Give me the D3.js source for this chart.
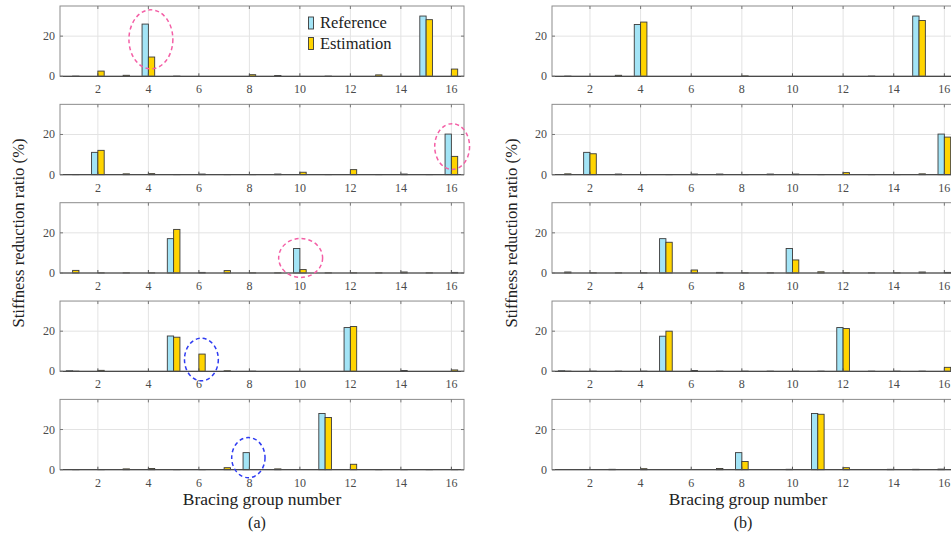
<!DOCTYPE html>
<html><head><meta charset="utf-8">
<script src="https://cdn.jsdelivr.net/npm/d3@7"></script>
<style>body{margin:0;background:#fff}svg{display:block}text{font-family:"Liberation Serif","Times New Roman",serif}</style>
</head><body><svg id="c" width="951" height="537"></svg>
<script>
const groups = [1,2,3,4,5,6,7,8,9,10,11,12,13,14,15,16];
const xTicks = [2,4,6,8,10,12,14,16];
const yTicks = [0,20];
const seriesNames = ["Reference","Estimation"];
const panelLabels = ["(a)","(b)"];

const refA = [
  [0,0,0,26,0,0,0,0,0,0,0,0,0,0,30,0],
  [0,11.1,0,0,0,0,0,0,0,0,0,0,0,0,0,20.2],
  [0,0,0,0,17.1,0,0,0,0,12.2,0,0,0,0,0,0],
  [0.3,0,0,0,17.6,0,0,0,0,0,0,21.8,0,0,0,0],
  [0,0,0,0,0,0,0,8.5,0,0,28,0,0,0,0,0]
];
const estA = [
  [0.1,2.6,0.5,9.6,0.1,0,0,0.8,0.4,0,0.1,0,0.7,0,28.2,3.6],
  [0.1,12.1,0.4,0.5,0.1,0.3,0.1,0.1,0.3,1.2,0.1,2.5,0.1,0.3,0.1,9.1],
  [1.3,0.1,0.1,0.1,21.7,0.3,1.2,0.1,0.1,1.7,0.1,0.1,0.1,0.5,0.1,0.3],
  [0.1,0.5,0,0,17.0,8.6,0.3,0.1,0,0,0,22.3,0,0.4,0,0.7],
  [0.1,0.1,0.4,0.6,0.1,0.1,1.0,0,0.4,0,26,2.7,0.1,0.1,0.1,0.1]
];
const refB = [
  [0,0,0,25.8,0,0,0,0,0,0,0,0,0,0,30,0],
  [0,11.1,0,0,0,0,0,0,0,0,0,0,0,0,0,20.2],
  [0,0,0,0,17.1,0,0,0,0,12.2,0,0,0,0,0,0],
  [0.3,0,0,0,17.5,0,0,0,0,0,0,21.8,0,0,0,0],
  [0,0,0.2,0,0,0,0,8.5,0,0.2,28,0,0,0.2,0.2,0.3]
];
const estB = [
  [0.1,0,0.5,27,0,0,0,0.2,0,0,0,0,0.1,0,27.8,0],
  [0.4,10.4,0.3,0.1,0.1,0.3,0.3,0.1,0.3,0.3,0.1,1.0,0.1,0.1,0.4,18.7],
  [0.5,0.1,0.1,0.1,15.3,1.5,0.3,0.1,0.1,6.5,0.6,0.1,0.1,0.1,0.5,0.3],
  [0.1,0.1,0.1,0.1,20,0.4,0.1,0.1,0.1,0.1,0.1,21.3,0.1,0.1,0.1,2.0],
  [0,0,0,0.5,0,0,0.6,4.1,0,0,27.6,1.0,0,0,0,0]
];
// dashed ellipse annotations (panel, row, centre x, centre y, radius x, radius y in data units)
const annotations = [
  {panel:0,row:0,x:4.1,y:18.4,rx:0.87,ry:14.7,color:"pink"},
  {panel:0,row:1,x:16.03,y:14,rx:0.69,ry:11.4,color:"pink"},
  {panel:0,row:2,x:10.03,y:7.5,rx:0.87,ry:9.7,color:"pink"},
  {panel:0,row:3,x:6.1,y:5.9,rx:0.67,ry:10.6,color:"blue"},
  {panel:0,row:4,x:7.96,y:6,rx:0.66,ry:10,color:"blue"}
];

const colors = {ref:"#a3e4f6", est:"#ffd400", pink:"#f45fa6", blue:"#2f3cf2"};
const svg = d3.select("#c");
const panels = [
  {ref:refA, est:estA, x0:60, x1:464},
  {ref:refB, est:estB, x0:552, x1:957}
];
const rowTop = 6, rowStep = 98.35, rowH = 70.3;
const barW = 0.25;

panels.forEach((p, pi) => {
  const x = d3.scaleLinear().domain([0.5,16.5]).range([p.x0,p.x1]);
  for (let r = 0; r < 5; r++) {
    const top = rowTop + r*rowStep;
    const y = d3.scaleLinear().domain([0,35]).range([top+rowH, top]);
    const g = svg.append("g");
    g.selectAll(".vg").data(xTicks).join("line")
      .attr("x1", d=>x(d)).attr("x2", d=>x(d)).attr("y1", y(0)).attr("y2", y(35))
      .attr("stroke","#e3e3e3").attr("stroke-width",1);
    g.selectAll(".hg").data(yTicks.filter(d=>d>0)).join("line")
      .attr("x1", x(0.5)).attr("x2", x(16.5)).attr("y1", d=>y(d)).attr("y2", d=>y(d))
      .attr("stroke","#e3e3e3").attr("stroke-width",1);
    const refData = groups.map((gr,i)=>({g:gr, v:p.ref[r][i]}));
    const estData = groups.map((gr,i)=>({g:gr, v:p.est[r][i]}));
    g.selectAll(".rb").data(refData.filter(d=>d.v>0)).join("rect")
      .attr("x", d=>x(d.g-barW)).attr("width", x(barW)-x(0))
      .attr("y", d=>y(d.v)).attr("height", d=>y(0)-y(d.v))
      .attr("fill", colors.ref).attr("stroke","#3a3a3a").attr("stroke-width",0.9);
    g.selectAll(".eb").data(estData.filter(d=>d.v>0)).join("rect")
      .attr("x", d=>x(d.g)).attr("width", x(barW)-x(0))
      .attr("y", d=>y(d.v)).attr("height", d=>y(0)-y(d.v))
      .attr("fill", colors.est).attr("stroke","#3a3a3a").attr("stroke-width",0.9);
    g.append("rect").attr("x", x(0.5)).attr("y", y(35)).attr("width", x(16.5)-x(0.5)).attr("height", y(0)-y(35))
      .attr("fill","none").attr("stroke","#8c8c8c").attr("stroke-width",1);
    g.append("line").attr("x1", x(0.5)).attr("x2", x(16.5)).attr("y1", y(0)).attr("y2", y(0))
      .attr("stroke","#4a4a4a").attr("stroke-width",1.2);
    g.selectAll(".tb").data(xTicks).join("line")
      .attr("x1", d=>x(d)).attr("x2", d=>x(d)).attr("y1", y(0)).attr("y2", y(0)-3)
      .attr("stroke","#555");
    g.selectAll(".tt").data(xTicks).join("line")
      .attr("x1", d=>x(d)).attr("x2", d=>x(d)).attr("y1", y(35)).attr("y2", y(35)+3)
      .attr("stroke","#777");
    g.selectAll(".tl").data(yTicks).join("line")
      .attr("x1", x(0.5)).attr("x2", x(0.5)+3).attr("y1", d=>y(d)).attr("y2", d=>y(d))
      .attr("stroke","#777");
    g.selectAll(".tr").data(yTicks).join("line")
      .attr("x1", x(16.5)).attr("x2", x(16.5)-3).attr("y1", d=>y(d)).attr("y2", d=>y(d))
      .attr("stroke","#777");
    g.selectAll(".xl").data(xTicks).join("text")
      .attr("x", d=>x(d)).attr("y", y(0)+17).attr("text-anchor","middle")
      .attr("font-size",12).attr("fill","#4a4a4a").text(d=>d);
    g.selectAll(".yl").data(yTicks).join("text")
      .attr("x", x(0.5)-5).attr("y", d=>y(d)+4).attr("text-anchor","end")
      .attr("font-size",12).attr("fill","#4a4a4a").text(d=>d);
    annotations.filter(a=>a.panel===pi && a.row===r).forEach(a=>{
      g.append("ellipse").attr("cx", x(a.x)).attr("cy", y(a.y))
        .attr("rx", x(a.rx)-x(0)).attr("ry", y(0)-y(a.ry))
        .attr("fill","none").attr("stroke", colors[a.color]).attr("stroke-width",1.5)
        .attr("stroke-dasharray","4,3");
    });
    if (pi===0 && r===0) {
      const lg = g.append("g");
      const items = [{n:seriesNames[0], c:colors.ref},{n:seriesNames[1], c:colors.est}];
      items.forEach((it,i)=>{
        lg.append("rect").attr("x",308.5).attr("y",17+i*20.5).attr("width",5).attr("height",12)
          .attr("fill",it.c).attr("stroke","#3a3a3a").attr("stroke-width",0.9);
        lg.append("text").attr("x",320).attr("y",28+i*20.5).attr("font-size",16.5).attr("fill","#222").text(it.n);
      });
    }
  }
  const mid = pi===0 ? 262 : 748;
  svg.append("text").attr("x", mid).attr("y", 505).attr("text-anchor","middle")
    .attr("font-size",17.5).attr("fill","#222").text("Bracing group number");
  svg.append("text").attr("x", mid-5).attr("y", 528).attr("text-anchor","middle")
    .attr("font-size",16).attr("fill","#222").text(panelLabels[pi]);
  const lx = pi===0 ? 18 : 511;
  svg.append("text").attr("transform",`translate(${lx+5.5},233) rotate(-90)`)
    .attr("text-anchor","middle").attr("font-size",16.7).attr("fill","#222")
    .text("Stiffness reduction ratio (%)");
});
</script></body></html>
